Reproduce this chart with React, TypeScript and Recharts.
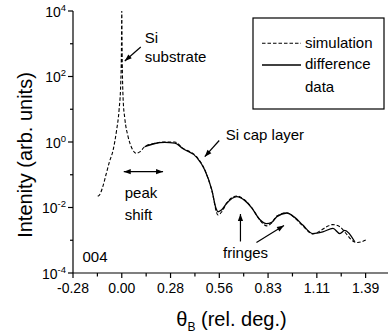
import React from 'react';
import { LineChart, Line, XAxis, YAxis, ReferenceLine, ReferenceDot } from 'recharts';

const FONT = '"Liberation Sans", Arial, sans-serif';

// x ticks in rel. deg. (1000 arcsec steps), minors halfway
const xMajor = [-0.2778, 0, 0.2778, 0.5556, 0.8333, 1.1111, 1.3889];
const xMinor = [-0.1389, 0.1389, 0.4167, 0.6944, 0.9722, 1.25];
const yTicks = [1e-4, 1e-3, 1e-2, 1e-1, 1, 10, 100, 1000, 10000];

// simulation (dashed)
const simX = [-0.137, -0.125, -0.11, -0.09, -0.07, -0.05, -0.03, -0.015, -0.006, -0.002, 0, 0.002, 0.008, 0.017,
  0.036, 0.057, 0.084, 0.1025, 0.131, 0.188, 0.245, 0.302, 0.347, 0.427, 0.473, 0.5125, 0.548, 0.5695, 0.598,
  0.655, 0.70, 0.74, 0.786, 0.826, 0.854, 0.883, 0.94, 0.985, 1.031, 1.088, 1.128, 1.167, 1.20, 1.242, 1.282,
  1.316, 1.344, 1.367, 1.395];
const simY = [0.022, 0.025, 0.04, 0.1, 0.25, 0.55, 2.2, 10, 60, 600, 10000, 600, 19, 5.4,
  1.45, 0.66, 0.45, 0.5, 0.72, 0.91, 1.0, 1.0, 0.65, 0.35, 0.14, 0.034, 0.0059, 0.0074, 0.0138,
  0.0224, 0.017, 0.01, 0.0042, 0.00275, 0.0034, 0.0055, 0.0068, 0.0048, 0.00275, 0.00155, 0.0019, 0.0026, 0.003, 0.0026, 0.0015,
  0.00095, 0.00085, 0.0009, 0.00105];

// difference data (solid)
const diffX = [0.131, 0.188, 0.245, 0.302, 0.347, 0.427, 0.473, 0.5125, 0.538, 0.548, 0.5695, 0.598, 0.655, 0.70,
  0.74, 0.786, 0.824, 0.854, 0.883, 0.94, 0.985, 1.031, 1.088, 1.145, 1.203, 1.242, 1.27, 1.327];
const diffY = [0.72, 0.9, 0.97, 0.93, 0.63, 0.34, 0.14, 0.035, 0.009, 0.0074, 0.0085, 0.0135, 0.0215, 0.0165,
  0.0098, 0.0043, 0.0032, 0.0035, 0.0052, 0.0068, 0.005, 0.0029, 0.0016, 0.0018, 0.0023, 0.0016, 0.002, 0.0009];

// annotation arrows: x1, y1 (tail), x2, y2 (head), double headed
const arrows: [number, number, number, number, boolean][] = [
  [0.1082, 796, 0.0171, 297, false],
  [0.555, 1.11, 0.4727, 0.356, false],
  [0.0114, 0.124, 0.2352, 0.124, true],
  [0.676, 0.000916, 0.676, 0.00634, false],
  [0.767, 0.000853, 0.924, 0.00282, false],
];
// annotation texts: text, x, y (baseline)
const notes: [string, number, number][] = [
  ['Si', 0.131, 1055],
  ['substrate', 0.131, 277],
  ['Si cap layer', 0.592, 1.15],
  ['peak', 0.0171, 0.0195],
  ['shift', 0.0171, 0.00401],
  ['004', -0.2238, 0.000224],
  ['fringes', 0.577, 0.000287],
];

const sim = simX.map((x, i) => ({ x, y: simY[i] }));
const diff = diffX.map((x, i) => ({ x, y: diffY[i] }));
const xTicks = [...xMajor, ...xMinor].sort((a, b) => a - b);

const head = (x: number, y: number, a: number) => {
  const L = 7, W = 2.6;
  const c = Math.cos(a), s = Math.sin(a);
  return `${x},${y} ${x - L * c + W * s},${y - L * s - W * c} ${x - L * c - W * s},${y - L * s + W * c}`;
};

const arrowShape = (double: boolean) => (p: any) => {
  const { x1, y1, x2, y2 } = p;
  const a = Math.atan2(y2 - y1, x2 - x1);
  return (
    <g>
      <line x1={x1} y1={y1} x2={x2} y2={y2} stroke="#000" strokeWidth={1.2} />
      <polygon points={head(x2, y2, a)} fill="#000" />
      {double ? <polygon points={head(x1, y1, a + Math.PI)} fill="#000" /> : null}
    </g>
  );
};

const isMajor = (v: number) => xMajor.some((m) => Math.abs(m - v) < 1e-6);

const BottomTick = (p: any) => {
  const { x, y, payload } = p;
  const major = isMajor(payload.value);
  return (
    <g>
      <line x1={x} x2={x} y1={y} y2={y + (major ? 5 : 3.5)} stroke="#000" strokeWidth={1.2} />
      {major ? (
        <text x={x} y={y + 20} textAnchor="middle" fontSize={14} fontFamily={FONT} fill="#000">
          {payload.value.toFixed(2)}
        </text>
      ) : null}
    </g>
  );
};

const TopTick = (p: any) => {
  const { x, y, payload } = p;
  const major = isMajor(payload.value);
  return <line x1={x} x2={x} y1={y} y2={y + (major ? 4 : 3)} stroke="#000" strokeWidth={1.2} />;
};

const LeftTick = (p: any) => {
  const { x, y, payload } = p;
  const e = Math.round(Math.log10(payload.value));
  const major = e % 2 === 0;
  return (
    <g>
      <line x1={x} x2={x - (major ? 5 : 3)} y1={y} y2={y} stroke="#000" strokeWidth={1.2} />
      {major ? (
        <text x={x - 7} y={y + 5.5} textAnchor="end" fontSize={14} fontFamily={FONT} fill="#000">
          10<tspan fontSize={9.5} dy={-6}>{e}</tspan>
        </text>
      ) : null}
    </g>
  );
};

const RightTick = (p: any) => {
  const { x, y, payload } = p;
  const e = Math.round(Math.log10(payload.value));
  return <line x1={x} x2={x - (e % 2 === 0 ? 4 : 3)} y1={y} y2={y} stroke="#000" strokeWidth={1.2} />;
};

const XLabel = (p: any) => {
  const { viewBox } = p;
  return (
    <text x={viewBox.x + viewBox.width / 2} y={viewBox.y + 53} textAnchor="middle" fontSize={20} fontFamily={FONT} fill="#000">
      θ<tspan fontSize={12} dy={5}>B</tspan><tspan dy={-5}> (rel. deg.)</tspan>
    </text>
  );
};

const YLabel = (p: any) => {
  const { viewBox } = p;
  const cx = viewBox.x + 25;
  const cy = viewBox.y + 144;
  return (
    <text x={cx} y={cy} transform={`rotate(-90 ${cx} ${cy})`} textAnchor="middle" dominantBaseline="central"
      fontSize={20} fontFamily={FONT} fill="#000">
      Intenity (arb. units)
    </text>
  );
};

const LegendBox = () => (
  <svg width={133} height={93} style={{ position: 'absolute', left: 252, top: 17 }}>
    <rect x={1} y={1} width={131} height={91} fill="#fff" stroke="#000" strokeWidth={1.2} />
    <line x1={10} x2={49} y1={26.3} y2={26.3} stroke="#000" strokeDasharray="3.5 2" strokeWidth={1.1} />
    <text x={53} y={31} fontSize={15} fontFamily={FONT}>simulation</text>
    <line x1={10} x2={49} y1={48} y2={48} stroke="#000" strokeWidth={1.4} />
    <text x={53} y={51.5} fontSize={15} fontFamily={FONT}>difference</text>
    <text x={53} y={74.5} fontSize={15} fontFamily={FONT}>data</text>
  </svg>
);

export default function App() {
  return (
    <div style={{ position: 'absolute', left: 0, top: 0, width: 388, height: 333, overflow: 'hidden', background: '#fff' }}>
      <LineChart width={390} height={333} margin={{ top: 11, right: 0, bottom: 0, left: 0 }}>
        <XAxis dataKey="x" type="number" domain={[-0.2778, 1.5278]} allowDataOverflow ticks={xTicks} interval={0}
          height={60} tickSize={0} tickMargin={0} tick={BottomTick} axisLine={{ stroke: '#000', strokeWidth: 1.2 }}
          label={{ content: XLabel }} />
        <XAxis xAxisId="top" orientation="top" type="number" domain={[-0.2778, 1.5278]} allowDataOverflow ticks={xTicks}
          interval={0} height={0} tickSize={0} tickMargin={0} tick={TopTick} axisLine={{ stroke: '#000', strokeWidth: 1.2 }} />
        <YAxis type="number" scale="log" domain={[1e-4, 1e4]} allowDataOverflow ticks={yTicks} interval={0} width={73}
          tickSize={0} tickMargin={0} tick={LeftTick} axisLine={{ stroke: '#000', strokeWidth: 1.2 }}
          label={{ content: YLabel }} />
        <YAxis yAxisId="right" orientation="right" type="number" scale="log" domain={[1e-4, 1e4]} allowDataOverflow
          ticks={yTicks} interval={0} width={0} tickSize={0} tickMargin={0} tick={RightTick} axisLine={false} />
        <Line data={sim} dataKey="y" type="monotone" stroke="#000" strokeWidth={1.1} strokeDasharray="3.5 2"
          dot={false} isAnimationActive={false} />
        <Line data={diff} dataKey="y" type="monotone" stroke="#000" strokeWidth={1.3}
          dot={false} isAnimationActive={false} />
        {arrows.map(([x1, y1, x2, y2, d], i) => (
          <ReferenceLine key={'a' + i} segment={[{ x: x1, y: y1 }, { x: x2, y: y2 }]} shape={arrowShape(d)} ifOverflow="visible" />
        ))}
        {notes.map(([t, x, y], i) => (
          <ReferenceDot key={'n' + i} x={x} y={y} r={0} ifOverflow="visible"
            shape={(p: any) => (
              <text x={p.cx} y={p.cy} fontSize={15} fontFamily={FONT} fill="#000">{t}</text>
            )} />
        ))}
      </LineChart>
      <LegendBox />
    </div>
  );
}
